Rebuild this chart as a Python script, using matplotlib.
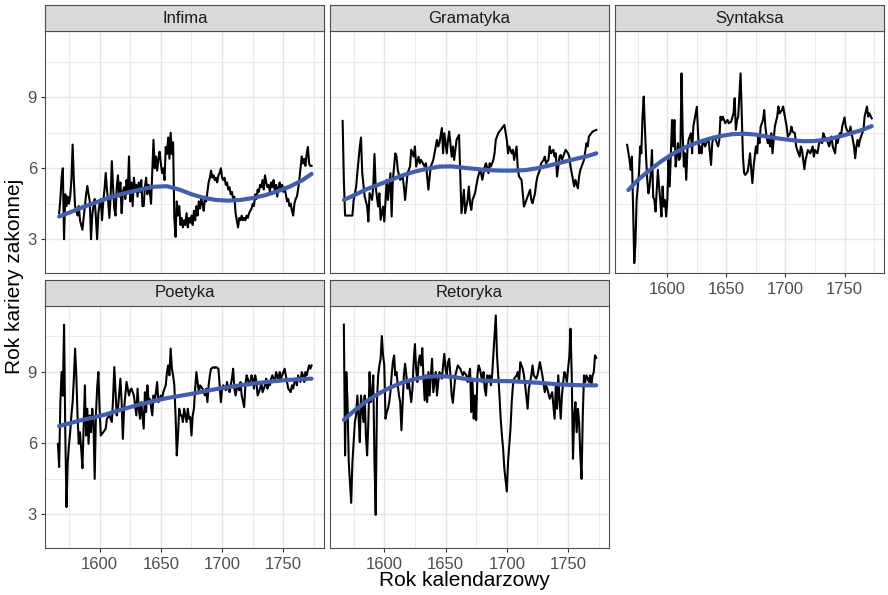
import matplotlib.pyplot as plt
from matplotlib.ticker import FixedLocator

plt.rcParams['font.family'] = ['Liberation Sans', 'DejaVu Sans']

# nazwy paneli (klasy)
panel_names = ['Infima', 'Gramatyka', 'Syntaksa', 'Poetyka', 'Retoryka']

# dane roczne (rok, średni rok kariery)
infima = [
    (1567, 4.1), (1568, 4.7), (1569, 5.6), (1570, 6.0), (1571, 3.0), (1572, 4.9), (1573, 4.4), (1574, 4.8),
    (1575, 4.5), (1576, 4.8), (1577, 5.5), (1578, 7.0), (1579, 5.5), (1580, 4.4), (1581, 4.2), (1582, 4.0),
    (1583, 4.4), (1584, 3.8), (1585, 3.6), (1586, 3.4), (1587, 3.9), (1588, 4.4), (1589, 4.9), (1590, 5.25),
    (1591, 4.9), (1592, 4.6), (1593, 3.0), (1594, 4.0), (1595, 4.4), (1596, 4.7), (1597, 3.9), (1598, 3.0),
    (1599, 4.1), (1600, 4.5), (1601, 4.7), (1602, 3.8), (1603, 4.6), (1604, 5.1), (1605, 5.8), (1606, 5.1),
    (1607, 4.6), (1608, 3.9), (1609, 4.8), (1610, 6.3), (1611, 5.2), (1612, 4.3), (1613, 4.0), (1614, 5.2),
    (1615, 5.7), (1616, 4.8), (1617, 5.4), (1618, 4.1), (1619, 5.0), (1620, 5.2), (1621, 4.7), (1622, 5.5),
    (1623, 5.0), (1624, 6.5), (1625, 4.6), (1626, 5.4), (1627, 4.4), (1628, 5.6), (1629, 5.1), (1630, 5.3),
    (1631, 4.8), (1632, 5.4), (1633, 5.0), (1634, 5.5), (1635, 4.4), (1636, 4.4), (1637, 5.2), (1638, 5.6),
    (1639, 4.9), (1640, 5.3), (1641, 5.0), (1642, 4.5), (1643, 5.8), (1644, 7.2), (1645, 6.0), (1646, 6.5),
    (1647, 5.9), (1648, 6.4), (1649, 6.7), (1650, 6.2), (1651, 5.8), (1652, 6.0), (1653, 5.5), (1654, 6.9),
    (1655, 6.6), (1656, 7.3), (1657, 6.4), (1658, 7.5), (1659, 6.6), (1660, 7.1), (1661, 3.9), (1662, 3.1),
    (1663, 4.6), (1664, 4.0), (1665, 4.4), (1666, 3.6), (1667, 3.9), (1668, 3.5), (1669, 3.8), (1670, 3.6),
    (1671, 4.1), (1672, 3.5), (1673, 3.9), (1674, 3.7), (1675, 4.0), (1676, 3.6), (1677, 4.2), (1678, 3.8),
    (1679, 4.4), (1680, 4.0), (1681, 4.6), (1682, 4.3), (1683, 4.7), (1684, 4.5), (1685, 4.2), (1686, 4.8),
    (1687, 4.6), (1688, 5.0), (1689, 5.4), (1690, 5.6), (1691, 5.9), (1692, 5.6), (1693, 5.7), (1694, 5.5),
    (1695, 5.6), (1696, 5.4), (1697, 5.7), (1698, 5.8), (1699, 6.0), (1700, 5.6), (1701, 5.5), (1702, 5.6),
    (1703, 5.3), (1704, 5.4), (1705, 5.1), (1706, 5.2), (1707, 4.9), (1708, 5.0), (1709, 4.7), (1710, 4.8),
    (1711, 4.1), (1712, 3.8), (1713, 3.5), (1714, 3.9), (1715, 3.8), (1716, 4.0), (1717, 3.8), (1718, 3.9),
    (1719, 3.8), (1720, 4.0), (1721, 3.9), (1722, 4.1), (1723, 4.2), (1724, 4.3), (1725, 4.5), (1726, 4.4),
    (1727, 4.9), (1728, 4.7), (1729, 5.1), (1730, 5.0), (1731, 5.3), (1732, 5.2), (1733, 5.5), (1734, 5.1),
    (1735, 5.7), (1736, 5.4), (1737, 5.2), (1738, 5.3), (1739, 5.0), (1740, 5.4), (1741, 5.2), (1742, 5.5),
    (1743, 5.0), (1744, 5.3), (1745, 4.8), (1746, 5.2), (1747, 5.4), (1748, 5.1), (1749, 5.3), (1750, 5.0),
    (1751, 5.2), (1752, 4.9), (1753, 4.6), (1754, 4.7), (1755, 4.4), (1756, 4.5), (1757, 4.2), (1758, 4.0),
    (1759, 4.5), (1760, 4.7), (1761, 4.8), (1762, 5.1), (1763, 5.5), (1764, 6.0), (1765, 6.5), (1766, 6.2),
    (1767, 6.4), (1768, 6.1), (1769, 6.6), (1770, 6.9), (1771, 6.2), (1772, 6.1), (1773, 6.1),
]

gramatyka = [
    (1566, 8.0), (1567, 5.5), (1568, 4.0), (1574, 4.0), (1575, 4.66), (1577, 5.2), (1578, 5.8), (1580, 6.9),
    (1581, 7.3), (1582, 5.8), (1584, 4.8), (1586, 4.4), (1587, 3.75), (1588, 4.95), (1590, 4.66), (1591, 5.2),
    (1592, 6.6), (1593, 5.2), (1595, 4.38), (1596, 4.94), (1597, 3.82), (1598, 4.1), (1599, 4.38), (1600, 3.75),
    (1602, 5.51), (1603, 4.66), (1605, 5.79), (1606, 3.96), (1607, 5.51), (1609, 6.63), (1610, 6.49), (1611, 5.93),
    (1613, 5.51), (1615, 5.65), (1616, 5.23), (1617, 4.66), (1619, 5.79), (1621, 6.07), (1622, 6.78), (1624, 6.49),
    (1625, 6.92), (1626, 6.07), (1628, 6.49), (1629, 6.21), (1630, 6.35), (1633, 6.07), (1634, 6.21), (1636, 5.09),
    (1637, 5.65), (1638, 6.07), (1640, 6.35), (1641, 6.63), (1643, 7.2), (1644, 6.92), (1645, 7.06), (1647, 7.7),
    (1648, 6.63), (1649, 7.48), (1651, 6.63), (1652, 7.2), (1653, 7.55), (1655, 6.49), (1656, 6.92), (1657, 6.35),
    (1659, 7.2), (1661, 7.41), (1662, 5.79), (1663, 4.1), (1665, 5.09), (1666, 4.1), (1668, 4.66), (1669, 5.23),
    (1670, 4.52), (1671, 4.24), (1672, 4.66), (1674, 4.94), (1675, 5.23), (1676, 5.51), (1678, 5.93), (1679, 5.79),
    (1680, 5.51), (1682, 6.07), (1683, 6.21), (1685, 5.79), (1686, 6.21), (1687, 6.07), (1689, 6.35), (1690, 6.63),
    (1691, 7.2), (1693, 7.48), (1695, 7.62), (1698, 7.83), (1700, 7.2), (1701, 6.63), (1702, 6.92), (1704, 6.63),
    (1705, 6.78), (1706, 6.35), (1708, 6.92), (1709, 5.93), (1710, 5.65), (1712, 5.51), (1713, 4.94), (1714, 4.38),
    (1716, 4.66), (1717, 4.8), (1719, 5.09), (1720, 4.66), (1721, 4.52), (1723, 4.94), (1724, 5.37), (1725, 5.65),
    (1727, 5.93), (1728, 6.21), (1730, 6.35), (1731, 6.49), (1732, 6.21), (1734, 6.35), (1735, 6.92), (1736, 6.63),
    (1738, 6.78), (1739, 6.49), (1740, 6.63), (1741, 5.65), (1743, 6.49), (1744, 6.56), (1745, 6.35), (1747, 6.63),
    (1748, 6.78), (1750, 6.63), (1751, 6.49), (1752, 6.07), (1754, 5.51), (1755, 5.23), (1756, 5.51), (1758, 5.15),
    (1759, 5.65), (1760, 5.93), (1762, 6.21), (1763, 6.35), (1765, 7.06), (1766, 6.92), (1767, 7.34), (1769, 7.48),
    (1770, 7.55), (1773, 7.62),
]

syntaksa = [
    (1566, 6.99), (1568, 6.35), (1569, 5.93), (1570, 6.49), (1571, 4.38), (1572, 1.99), (1573, 2.83), (1574, 4.66),
    (1575, 5.23), (1576, 5.79), (1577, 6.92), (1578, 6.63), (1579, 8.18), (1580, 9.03), (1581, 7.76), (1582, 6.49),
    (1583, 5.51), (1584, 4.94), (1585, 5.23), (1586, 5.79), (1587, 6.77), (1588, 4.8), (1589, 4.66), (1590, 4.17),
    (1592, 5.93), (1593, 5.23), (1594, 4.66), (1595, 3.96), (1596, 5.23), (1597, 4.38), (1598, 4.66), (1599, 3.96),
    (1600, 4.66), (1601, 6.35), (1602, 5.23), (1604, 8.04), (1605, 6.92), (1606, 8.04), (1607, 6.07), (1608, 6.49),
    (1609, 7.06), (1610, 6.35), (1611, 6.49), (1612, 10.01), (1613, 7.48), (1614, 6.07), (1615, 6.63), (1616, 5.51),
    (1617, 6.77), (1618, 7.2), (1620, 7.48), (1621, 6.63), (1622, 7.76), (1624, 8.32), (1625, 8.6), (1626, 7.48),
    (1627, 6.63), (1628, 6.92), (1629, 6.63), (1630, 7.2), (1632, 6.92), (1633, 7.06), (1635, 7.2), (1637, 6.14),
    (1638, 7.06), (1639, 7.34), (1641, 7.2), (1643, 6.92), (1644, 7.2), (1645, 8.18), (1646, 8.04), (1647, 8.18),
    (1649, 7.9), (1651, 8.04), (1652, 7.9), (1654, 7.97), (1656, 8.32), (1657, 8.96), (1658, 7.62), (1659, 8.04),
    (1660, 8.18), (1662, 10.01), (1663, 8.32), (1664, 6.49), (1665, 5.79), (1666, 5.72), (1668, 5.86), (1669, 6.21),
    (1670, 6.63), (1671, 5.93), (1672, 5.37), (1673, 6.07), (1674, 6.49), (1675, 6.92), (1676, 6.63), (1677, 7.34),
    (1678, 7.06), (1679, 7.76), (1681, 8.04), (1682, 8.46), (1683, 7.76), (1684, 7.34), (1685, 7.06), (1686, 7.2),
    (1687, 6.92), (1688, 7.48), (1689, 6.63), (1690, 7.2), (1691, 7.76), (1693, 8.18), (1694, 8.61), (1695, 8.32),
    (1697, 8.46), (1698, 8.61), (1700, 8.04), (1701, 7.76), (1702, 7.34), (1704, 7.48), (1705, 7.76), (1706, 7.55),
    (1708, 7.48), (1709, 6.92), (1710, 6.77), (1712, 6.49), (1713, 6.92), (1714, 6.77), (1716, 5.96), (1717, 6.35),
    (1719, 6.77), (1720, 6.7), (1721, 6.63), (1723, 6.92), (1724, 6.49), (1725, 6.77), (1727, 6.63), (1728, 6.92),
    (1729, 7.2), (1731, 7.06), (1732, 7.48), (1733, 7.34), (1735, 7.2), (1736, 7.06), (1737, 6.92), (1739, 7.34),
    (1740, 6.92), (1742, 6.63), (1743, 7.2), (1744, 7.06), (1746, 7.48), (1747, 7.34), (1748, 7.76), (1750, 8.15),
    (1751, 7.76), (1752, 7.62), (1754, 7.48), (1755, 7.76), (1757, 7.2), (1758, 6.92), (1759, 6.42), (1760, 6.92),
    (1761, 7.2), (1762, 6.92), (1763, 7.2), (1765, 7.48), (1766, 7.62), (1767, 8.18), (1769, 8.61), (1770, 8.18),
    (1771, 8.32), (1773, 8.11),
]

poetyka = [
    (1566, 5.97), (1567, 4.99), (1568, 7.73), (1569, 9.0), (1570, 8.0), (1571, 11.0), (1572, 6.46), (1573, 3.3),
    (1574, 5.2), (1575, 5.9), (1576, 6.46), (1577, 7.17), (1578, 7.73), (1579, 8.72), (1580, 9.99), (1581, 8.86),
    (1582, 7.17), (1583, 5.97), (1584, 6.46), (1585, 5.76), (1586, 4.94), (1587, 6.75), (1588, 8.44), (1589, 6.32),
    (1590, 7.45), (1591, 5.97), (1592, 7.17), (1593, 6.46), (1594, 7.45), (1595, 6.89), (1596, 4.49), (1597, 7.17),
    (1598, 8.3), (1599, 9.0), (1600, 7.45), (1601, 6.32), (1603, 6.46), (1605, 6.61), (1606, 7.03), (1608, 7.17),
    (1610, 6.89), (1611, 7.87), (1612, 9.21), (1613, 8.15), (1614, 7.17), (1615, 7.45), (1617, 8.72), (1618, 7.73),
    (1619, 6.18), (1620, 7.45), (1621, 8.01), (1622, 8.58), (1623, 8.3), (1624, 8.01), (1625, 8.23), (1626, 8.3),
    (1627, 8.15), (1628, 8.01), (1630, 7.17), (1631, 8.3), (1632, 7.45), (1633, 7.03), (1634, 7.73), (1635, 7.17),
    (1636, 6.61), (1637, 8.15), (1638, 7.31), (1639, 8.44), (1640, 7.73), (1641, 7.87), (1643, 7.17), (1644, 8.01),
    (1645, 7.73), (1646, 8.15), (1647, 8.58), (1648, 7.73), (1649, 7.87), (1650, 8.01), (1651, 7.87), (1652, 8.15),
    (1654, 8.44), (1655, 9.0), (1656, 9.28), (1657, 8.86), (1658, 9.99), (1659, 9.14), (1660, 8.86), (1661, 8.44),
    (1662, 7.17), (1663, 5.48), (1664, 6.32), (1665, 7.45), (1666, 7.17), (1667, 7.17), (1668, 6.89), (1669, 7.45),
    (1670, 7.17), (1671, 6.89), (1672, 7.45), (1673, 7.03), (1674, 7.1), (1675, 6.32), (1676, 7.17), (1677, 7.45),
    (1678, 8.3), (1679, 9.0), (1680, 8.58), (1681, 8.15), (1682, 8.44), (1684, 8.3), (1685, 8.15), (1686, 8.01),
    (1687, 8.3), (1688, 7.73), (1689, 8.44), (1690, 8.86), (1691, 9.14), (1693, 9.21), (1694, 9.17), (1695, 9.21),
    (1697, 9.14), (1698, 8.44), (1699, 7.73), (1700, 8.3), (1701, 8.44), (1703, 8.23), (1704, 8.58), (1705, 8.3),
    (1706, 8.15), (1707, 8.44), (1708, 8.72), (1709, 9.14), (1710, 8.3), (1711, 8.01), (1712, 8.3), (1713, 8.44),
    (1714, 8.23), (1715, 8.58), (1716, 8.01), (1718, 7.52), (1719, 8.44), (1720, 8.86), (1721, 8.72), (1722, 8.44),
    (1723, 8.58), (1724, 8.86), (1725, 8.72), (1726, 8.3), (1727, 8.86), (1728, 8.58), (1729, 8.01), (1731, 8.3),
    (1732, 8.58), (1733, 8.15), (1734, 8.3), (1735, 8.44), (1736, 8.72), (1737, 8.3), (1738, 8.58), (1739, 8.44),
    (1740, 8.72), (1741, 8.86), (1743, 8.58), (1744, 9.0), (1745, 8.86), (1746, 8.58), (1747, 9.0), (1748, 8.72),
    (1749, 8.86), (1750, 9.0), (1751, 9.14), (1752, 8.86), (1753, 8.58), (1754, 8.3), (1756, 8.15), (1757, 8.44),
    (1758, 8.3), (1759, 8.58), (1760, 8.72), (1761, 8.44), (1762, 8.86), (1763, 8.72), (1764, 8.58), (1765, 9.0),
    (1766, 8.86), (1767, 8.58), (1768, 9.0), (1769, 8.86), (1771, 9.28), (1772, 9.14), (1773, 9.28),
]

retoryka = [
    (1567, 11.0), (1568, 5.48), (1569, 9.0), (1570, 7.73), (1571, 5.2), (1572, 4.35), (1573, 3.48), (1574, 5.2),
    (1575, 6.04), (1576, 6.89), (1577, 7.17), (1578, 8.01), (1579, 7.17), (1580, 6.04), (1581, 8.01), (1582, 7.45),
    (1583, 6.89), (1584, 8.01), (1585, 6.32), (1586, 5.48), (1587, 6.89), (1588, 9.0), (1589, 7.73), (1590, 8.01),
    (1591, 8.86), (1592, 5.2), (1593, 2.97), (1594, 7.73), (1595, 8.86), (1596, 9.28), (1597, 9.56), (1598, 10.52),
    (1599, 9.7), (1600, 9.28), (1601, 7.03), (1602, 7.31), (1603, 7.45), (1604, 7.73), (1605, 8.15), (1606, 8.86),
    (1607, 9.42), (1608, 9.7), (1609, 8.86), (1610, 9.0), (1611, 8.44), (1612, 8.01), (1613, 7.73), (1614, 6.54),
    (1615, 7.73), (1616, 8.86), (1617, 9.35), (1618, 8.86), (1619, 8.3), (1620, 8.58), (1621, 8.15), (1622, 7.73),
    (1623, 8.3), (1624, 9.42), (1625, 10.18), (1626, 9.14), (1627, 8.58), (1628, 9.42), (1629, 9.7), (1630, 9.28),
    (1631, 10.01), (1632, 8.72), (1633, 7.8), (1634, 8.86), (1635, 7.73), (1636, 9.0), (1637, 8.01), (1638, 8.86),
    (1639, 9.56), (1640, 8.15), (1641, 8.58), (1642, 9.0), (1643, 8.01), (1644, 8.58), (1645, 9.0), (1646, 8.86),
    (1647, 8.72), (1648, 9.28), (1649, 9.77), (1650, 9.14), (1651, 8.86), (1652, 9.42), (1653, 9.56), (1654, 8.86),
    (1655, 8.01), (1656, 7.7), (1657, 8.3), (1658, 8.86), (1659, 9.07), (1660, 9.28), (1661, 9.21), (1662, 9.14),
    (1664, 8.86), (1665, 9.0), (1667, 8.86), (1668, 8.58), (1669, 8.86), (1670, 9.14), (1671, 7.31), (1672, 8.58),
    (1673, 7.03), (1674, 8.01), (1675, 6.97), (1676, 8.86), (1677, 9.28), (1678, 9.14), (1679, 8.86), (1680, 8.58),
    (1681, 9.0), (1682, 8.3), (1683, 8.01), (1684, 8.86), (1685, 8.58), (1686, 8.86), (1687, 8.44), (1688, 8.86),
    (1689, 9.7), (1690, 10.55), (1691, 11.39), (1692, 9.7), (1693, 8.86), (1694, 8.01), (1695, 7.03), (1696, 6.32),
    (1697, 5.76), (1698, 4.92), (1700, 3.96), (1701, 5.2), (1703, 6.61), (1704, 7.73), (1705, 8.44), (1706, 8.72),
    (1708, 8.86), (1709, 9.0), (1710, 8.58), (1711, 9.42), (1713, 9.14), (1714, 8.86), (1715, 8.44), (1717, 7.45),
    (1718, 8.3), (1720, 8.86), (1721, 9.28), (1722, 8.86), (1724, 8.72), (1725, 8.86), (1727, 9.42), (1728, 9.14),
    (1729, 8.86), (1731, 8.15), (1732, 8.44), (1733, 8.3), (1735, 7.87), (1736, 8.01), (1737, 8.15), (1739, 7.03),
    (1740, 8.44), (1741, 7.45), (1742, 8.86), (1743, 7.87), (1744, 7.03), (1745, 8.01), (1746, 8.58), (1747, 9.0),
    (1748, 8.86), (1749, 8.58), (1750, 9.14), (1751, 9.63), (1752, 10.83), (1753, 8.86), (1754, 5.34), (1755, 7.17),
    (1756, 7.73), (1757, 6.46), (1758, 7.45), (1759, 6.89), (1760, 5.48), (1761, 4.49), (1762, 7.17), (1763, 8.86),
    (1764, 8.58), (1765, 8.86), (1766, 8.72), (1767, 8.58), (1768, 8.86), (1769, 8.44), (1770, 8.86), (1771, 9.0),
    (1772, 9.7), (1773, 9.6),
]

# wygładzone trendy (niebieska linia loess)
smooth_years = [1567, 1575, 1585, 1595, 1605, 1615, 1625, 1635, 1645, 1655, 1665,
                1675, 1685, 1695, 1705, 1715, 1725, 1735, 1745, 1755, 1765, 1773]
infima_smooth = [3.96, 4.12, 4.33, 4.52, 4.70, 4.87, 5.00, 5.12, 5.22, 5.24, 5.10,
                 4.90, 4.75, 4.66, 4.63, 4.66, 4.74, 4.86, 5.02, 5.22, 5.48, 5.76]
gramatyka_smooth = [4.66, 4.85, 5.10, 5.30, 5.50, 5.70, 5.86, 5.98, 6.07, 6.08, 6.02,
                    5.97, 5.92, 5.90, 5.90, 5.92, 6.00, 6.12, 6.25, 6.38, 6.50, 6.63]
syntaksa_smooth = [5.08, 5.50, 5.92, 6.30, 6.62, 6.88, 7.08, 7.24, 7.36, 7.44, 7.46,
                   7.42, 7.33, 7.25, 7.19, 7.14, 7.15, 7.22, 7.33, 7.47, 7.62, 7.78]
poetyka_smooth = [6.72, 6.83, 6.97, 7.08, 7.21, 7.37, 7.52, 7.66, 7.79, 7.90, 7.99,
                  8.08, 8.18, 8.28, 8.36, 8.44, 8.51, 8.57, 8.63, 8.67, 8.70, 8.72]
retoryka_smooth = [6.98, 7.35, 7.75, 8.08, 8.35, 8.56, 8.71, 8.80, 8.83, 8.80, 8.72,
                   8.66, 8.63, 8.62, 8.61, 8.58, 8.55, 8.51, 8.47, 8.45, 8.44, 8.44]

series = [infima, gramatyka, syntaksa, poetyka, retoryka]
smooths = [infima_smooth, gramatyka_smooth, syntaksa_smooth, poetyka_smooth, retoryka_smooth]

x_ticks = [1600, 1650, 1700, 1750]
x_minor = [1575, 1625, 1675, 1725, 1775]
y_ticks = [3, 6, 9]
y_minor = [4.5, 7.5, 10.5]

# układ paneli w pikselach
W, H = 888, 595
cols = [(45.3, 324.3), (330, 609), (615, 884)]
rows = [(5.3, 31, 273.3), (280, 305.7, 548.3)]


def rect(l, t, r, b):
    return [l / W, 1 - b / H, (r - l) / W, (b - t) / H]


fig = plt.figure(figsize=(W / 100, H / 100), dpi=100)

for i, name in enumerate(panel_names):
    row, col = divmod(i, 3)
    l, r = cols[col]
    st, pt, pb = rows[row]

    ax = fig.add_axes(rect(l, pt, r, pb))
    years = [p[0] for p in series[i]]
    vals = [p[1] for p in series[i]]
    ax.plot(years, vals, color='black', lw=1.5, solid_joinstyle='round')
    ax.plot(smooth_years, smooths[i], color='#3F5FB5', lw=3.0, solid_capstyle='round')

    ax.set_xlim(1555.7, 1783.4)
    ax.set_ylim(1.56, 11.8)
    ax.xaxis.set_major_locator(FixedLocator(x_ticks))
    ax.xaxis.set_minor_locator(FixedLocator(x_minor))
    ax.yaxis.set_major_locator(FixedLocator(y_ticks))
    ax.yaxis.set_minor_locator(FixedLocator(y_minor))
    ax.grid(which='major', color='#E5E5E5', lw=1.0)
    ax.grid(which='minor', color='#E8E8E8', lw=0.6)
    ax.set_axisbelow(True)
    for s in ax.spines.values():
        s.set_color('#4D4D4D')
        s.set_linewidth(0.8)

    show_x = row == 1 or i == 2
    show_y = col == 0
    ax.tick_params(which='minor', length=0)
    ax.tick_params(axis='x', which='major', length=3 if show_x else 0, color='#333333',
                   labelbottom=show_x, labelsize=12, labelcolor='#4D4D4D', pad=3)
    ax.tick_params(axis='y', which='major', length=3 if show_y else 0, color='#333333',
                   labelleft=show_y, labelsize=12, labelcolor='#4D4D4D', pad=3)

    # pasek z nazwą panelu
    sax = fig.add_axes(rect(l, st, r, pt))
    sax.set_facecolor('#D9D9D9')
    sax.set_xticks([])
    sax.set_yticks([])
    for s in sax.spines.values():
        s.set_color('#4D4D4D')
        s.set_linewidth(0.8)
    sax.text(0.5, 0.5, name, ha='center', va='center', fontsize=12,
             color='#1A1A1A', transform=sax.transAxes)

fig.text((45.3 + 884) / 2 / W, 1 - 580 / H, 'Rok kalendarzowy', ha='center', va='center',
         fontsize=15)
fig.text(15 / W, 1 - 276.8 / H, 'Rok kariery zakonnej', ha='center', va='center',
         rotation=90, fontsize=15)

fig.savefig('out.png', dpi=100)
